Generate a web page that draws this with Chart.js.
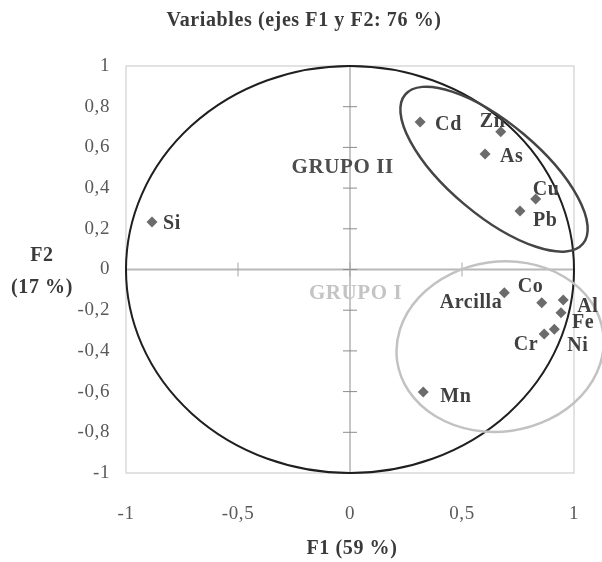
<!DOCTYPE html>
<html>
<head>
<meta charset="utf-8">
<script src="https://cdn.jsdelivr.net/npm/chart.js@4.4.1/dist/chart.umd.min.js"></script>
<style>
  html, body { margin: 0; padding: 0; background: #ffffff; }
  #wrap { width: 602px; height: 562px; }
</style>
</head>
<body>
<div id="wrap"><canvas id="c" width="602" height="562"></canvas></div>
<script>
// ---- data ----
const variables = ["Si", "Cd", "Zn", "As", "Cu", "Pb", "Arcilla", "Co", "Al", "Fe", "Ni", "Cr", "Mn"];
const f1Values  = [-0.884, 0.313, 0.673, 0.603, 0.829, 0.759, 0.689, 0.856, 0.952, 0.942, 0.912, 0.867, 0.327];
const f2Values  = [ 0.233, 0.725, 0.677, 0.568, 0.346, 0.287, -0.114, -0.163, -0.150, -0.212, -0.294, -0.317, -0.602];
const xTicks = [-1, -0.5, 0, 0.5, 1];
const yTicks = [-1, -0.8, -0.6, -0.4, -0.2, 0, 0.2, 0.4, 0.6, 0.8, 1];
const chartTitle = "Variables (ejes F1 y F2: 76 %)";
const xTitle = "F1 (59 %)";
const yTitleLines = ["F2", "(17 %)"];
const groupNames = ["GRUPO II", "GRUPO I"];

// ---- styling / placement (not data) ----
// label offsets in pixels from marker: [dx, dy, align]
const labelOffsets = [
  [11, 2, "left"], [15, 3, "left"], [-21, -10, "left"], [15, 3, "left"],
  [-3, -9, "left"], [13, 10, "left"], [-2, 10, "right"], [-24, -16, "left"],
  [14, 7, "left"], [11, 10, "left"], [13, 16, "left"], [-6, 11, "right"],
  [17, 5, "left"]
];
// group ellipses: centre in data units, semi-axes in x-axis units, rotation (deg, screen)
const groupEllipses = [
  { cx: 0.643, cy: 0.493, a: 0.518, b: 0.205, rot: 40, color: "#454545", width: 2.5 },
  { cx: 0.670, cy: -0.379, a: 0.464, b: 0.379, rot: -8, color: "#c2c2c2", width: 2.5 }
];
const groupLabelPos = [ { x: -0.033, y: 0.50, color: "#4d4d4d" }, { x: 0.025, y: -0.12, color: "#c4c4c4" } ];

const SERIF = "'Liberation Serif', 'Times New Roman', serif";
const fmt = v => { const r = Math.round(v * 10) / 10; return String(r).replace('.', ','); };

const decoPlugin = {
  id: 'deco',
  beforeDraw(chart) {
    const ctx = chart.ctx;
    try { ctx.letterSpacing = '0.6px'; } catch (e) {}
  },
  beforeDatasetsDraw(chart) {
    const ctx = chart.ctx;
    const xs = chart.scales.x, ys = chart.scales.y;
    const ca = chart.chartArea;
    ctx.save();
    // plot border
    ctx.strokeStyle = '#d9d9d9';
    ctx.lineWidth = 1.5;
    ctx.strokeRect(ca.left, ca.top, ca.right - ca.left, ca.bottom - ca.top);
    // central axes
    const x0 = xs.getPixelForValue(0), y0 = ys.getPixelForValue(0);
    ctx.strokeStyle = '#b8b8b8';
    ctx.lineWidth = 2;
    ctx.beginPath(); ctx.moveTo(ca.left, y0); ctx.lineTo(ca.right, y0); ctx.stroke();
    ctx.strokeStyle = '#8c8c8c';
    ctx.lineWidth = 1;
    ctx.beginPath(); ctx.moveTo(x0, ca.top); ctx.lineTo(x0, ca.bottom); ctx.stroke();
    // tick marks on central axes
    ctx.beginPath();
    yTicks.forEach(v => { const p = ys.getPixelForValue(v); ctx.moveTo(x0 - 7, p); ctx.lineTo(x0 + 7, p); });
    ctx.stroke();
    ctx.strokeStyle = '#a6a6a6';
    ctx.beginPath();
    xTicks.forEach(v => { const p = xs.getPixelForValue(v); ctx.moveTo(p, y0 - 7); ctx.lineTo(p, y0 + 7); });
    ctx.stroke();
    // correlation circle (unit circle in data units)
    const rx = xs.getPixelForValue(1) - x0;
    const ry = y0 - ys.getPixelForValue(1);
    ctx.strokeStyle = '#1f1f1f';
    ctx.lineWidth = 2;
    ctx.beginPath(); ctx.ellipse(x0, y0, rx, ry, 0, 0, Math.PI * 2); ctx.stroke();
    // group ellipses
    groupEllipses.forEach(g => {
      const cx = xs.getPixelForValue(g.cx), cy = ys.getPixelForValue(g.cy);
      const a = xs.getPixelForValue(g.cx + g.a) - cx;
      const b = xs.getPixelForValue(g.cx + g.b) - cx;
      ctx.strokeStyle = g.color;
      ctx.lineWidth = g.width;
      ctx.beginPath(); ctx.ellipse(cx, cy, a, b, g.rot * Math.PI / 180, 0, Math.PI * 2); ctx.stroke();
    });
    // group names
    ctx.font = `bold 21px ${SERIF}`;
    ctx.textAlign = 'center';
    ctx.textBaseline = 'middle';
    groupNames.forEach((n, i) => {
      const p = groupLabelPos[i];
      ctx.fillStyle = p.color;
      ctx.fillText(n, xs.getPixelForValue(p.x), ys.getPixelForValue(p.y));
    });
    ctx.restore();
  },
  afterDatasetsDraw(chart) {
    const ctx = chart.ctx;
    const meta = chart.getDatasetMeta(0);
    ctx.save();
    ctx.font = `bold 20px ${SERIF}`;
    ctx.fillStyle = '#404040';
    ctx.textBaseline = 'middle';
    meta.data.forEach((pt, i) => {
      const o = labelOffsets[i];
      ctx.textAlign = o[2];
      ctx.fillText(variables[i], pt.x + o[0], pt.y + o[1]);
    });
    // titles
    ctx.fillStyle = '#3a3a3a';
    ctx.textAlign = 'center';
    ctx.font = `bold 20px ${SERIF}`;
    ctx.fillText(chartTitle, 304, 21);
    const ca = chart.chartArea;
    ctx.fillText(xTitle, (ca.left + ca.right) / 2 + 2, 549);
    ctx.fillText(yTitleLines[0], 42, 256);
    ctx.fillText(yTitleLines[1], 42, 288);
    ctx.restore();
  }
};

new Chart(document.getElementById('c'), {
  type: 'scatter',
  data: {
    datasets: [{
      data: variables.map((v, i) => ({ x: f1Values[i], y: f2Values[i] })),
      pointStyle: 'rectRot',
      pointRadius: 5.5,
      pointHoverRadius: 5.5,
      backgroundColor: '#6b6b6b',
      borderColor: '#6b6b6b',
      borderWidth: 0
    }]
  },
  options: {
    responsive: false,
    animation: false,
    devicePixelRatio: 1,
    layout: { padding: { top: 66, right: 28, left: 0, bottom: 0 } },
    plugins: { legend: { display: false }, title: { display: false }, tooltip: { enabled: false } },
    scales: {
      x: {
        type: 'linear', min: -1, max: 1,
        afterBuildTicks: s => { s.ticks = xTicks.map(v => ({ value: v })); },
        afterFit: s => { s.height = 89; s.paddingLeft = 0; s.paddingRight = 0; },
        grid: { display: false, drawTicks: false },
        border: { display: false },
        ticks: { padding: 30, color: '#595959', font: { family: SERIF, size: 19 }, callback: v => fmt(v), maxRotation: 0 }
      },
      y: {
        type: 'linear', min: -1, max: 1,
        afterBuildTicks: s => { s.ticks = yTicks.map(v => ({ value: v })); },
        afterFit: s => { s.width = 126; },
        grid: { display: false, drawTicks: false },
        border: { display: false },
        ticks: { padding: 16, color: '#595959', font: { family: SERIF, size: 19 }, callback: v => fmt(v) }
      }
    }
  },
  plugins: [decoPlugin]
});
</script>
</body>
</html>
